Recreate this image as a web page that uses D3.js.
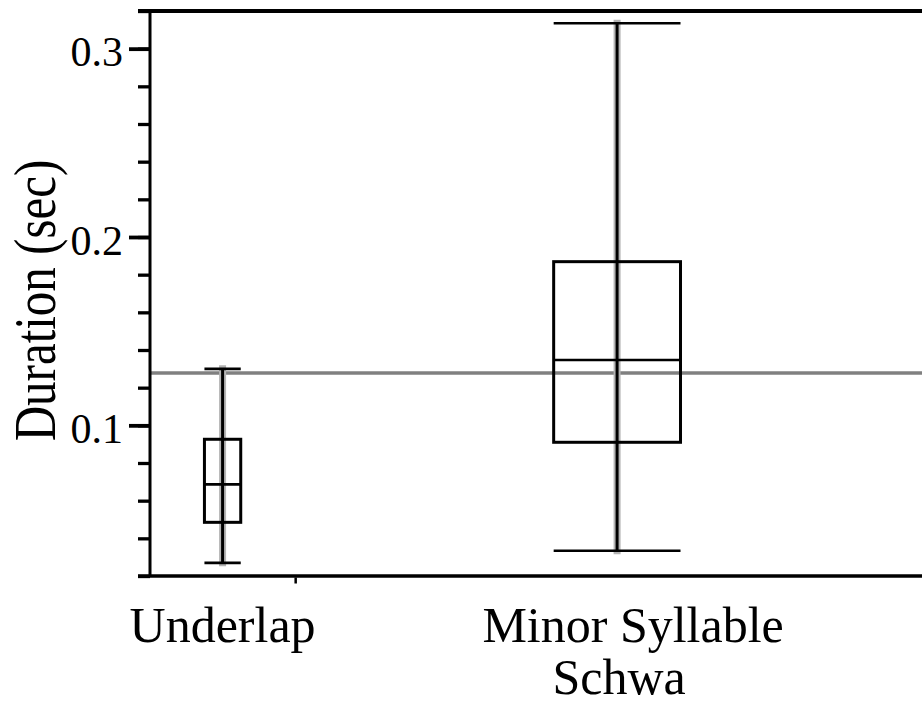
<!DOCTYPE html>
<html>
<head>
<meta charset="utf-8">
<script src="https://cdn.jsdelivr.net/npm/d3@7"></script>
<style>
  body { margin: 0; background: #fff; }
  svg { display: block; }
</style>
</head>
<body>
<svg id="chart" width="922" height="704"></svg>
<script>
// Duration by condition: box plot summaries (seconds)
const categories = ["Underlap", "Minor Syllable Schwa"];
const categoryLines = [["Underlap"], ["Minor Syllable", "Schwa"]];
const groupShare = [0.184, 0.816];          // share of the x axis given to each group
const whiskerLow = [0.027, 0.0334];
const q1 = [0.0485, 0.091];
const median = [0.0687, 0.1347];
const q3 = [0.0926, 0.1869];
const whiskerHigh = [0.130, 0.3135];
const grandMean = 0.1278;
const majorTicks = [0.1, 0.2, 0.3];
const minorTicks = d3.range(1, 17).map(i => +(i * 0.02).toFixed(2));

// layout
const plotLeft = 150, plotRight = 939, plotTop = 11, plotBottom = 576;
const boxFrac = [0.25, 0.197];
const lineOffsets = [[0], [16, 2]];
const SERIF = "'Liberation Serif', 'Times New Roman', Times, 'DejaVu Serif', serif";

const svg = d3.select("#chart");

const y = d3.scaleLinear().domain([0.02, 0.32]).range([plotBottom, plotTop]);
const xEdge = d3.scaleLinear().domain([0, 1]).range([plotLeft, plotRight]);
const cum = [0];
groupShare.forEach(s => cum.push(cum[cum.length - 1] + s));
const groups = categories.map((c, i) => {
  const x0 = xEdge(cum[i]), x1 = xEdge(cum[i + 1]);
  return { name: c, i, cx: (x0 + x1) / 2, half: (x1 - x0) * boxFrac[i] / 2 };
});

// grand mean reference line
svg.append("line")
  .attr("x1", plotLeft + 1).attr("x2", plotRight)
  .attr("y1", y(grandMean)).attr("y2", y(grandMean))
  .attr("stroke", "#808080").attr("stroke-width", 3.5);

// faint spread trace behind each whisker
svg.append("g").selectAll("line").data(groups).join("line")
  .attr("x1", d => d.cx).attr("x2", d => d.cx)
  .attr("y1", d => y(whiskerHigh[d.i])).attr("y2", d => y(whiskerLow[d.i]))
  .attr("stroke", "#b4b4b4").attr("stroke-width", 7)
  .attr("stroke-linecap", "square")
  .attr("stroke-dasharray", "16,4,9,3,22,5,12,3");

const boxes = svg.append("g").selectAll("g").data(groups).join("g");

// whisker stem
boxes.append("line")
  .attr("x1", d => d.cx).attr("x2", d => d.cx)
  .attr("y1", d => y(whiskerHigh[d.i])).attr("y2", d => y(whiskerLow[d.i]))
  .attr("stroke", "#000").attr("stroke-width", 3);

// whisker caps
[whiskerHigh, whiskerLow].forEach(arr => {
  boxes.append("line")
    .attr("x1", d => d.cx - d.half).attr("x2", d => d.cx + d.half)
    .attr("y1", d => y(arr[d.i])).attr("y2", d => y(arr[d.i]))
    .attr("stroke", "#000").attr("stroke-width", 2.7);
});

// interquartile box
boxes.append("rect")
  .attr("x", d => d.cx - d.half).attr("width", d => 2 * d.half)
  .attr("y", d => y(q3[d.i])).attr("height", d => y(q1[d.i]) - y(q3[d.i]))
  .attr("fill", "none").attr("stroke", "#000").attr("stroke-width", 3);

// median
boxes.append("line")
  .attr("x1", d => d.cx - d.half).attr("x2", d => d.cx + d.half)
  .attr("y1", d => y(median[d.i])).attr("y2", d => y(median[d.i]))
  .attr("stroke", "#000").attr("stroke-width", 2.7);

// y axis: minor ticks
const minorAxis = svg.append("g")
  .attr("transform", `translate(${plotLeft},0)`)
  .call(d3.axisLeft(y).tickValues(minorTicks).tickSize(12).tickFormat(""));
minorAxis.select(".domain").remove();
minorAxis.selectAll(".tick line").attr("stroke", "#000").attr("stroke-width", 3.3);

// y axis: major ticks with labels
const majorAxis = svg.append("g")
  .attr("transform", `translate(${plotLeft},0)`)
  .call(d3.axisLeft(y).tickValues(majorTicks).tickSize(21).tickPadding(6)
    .tickFormat(d3.format(".1f")));
majorAxis.attr("font-family", SERIF).attr("font-size", 42);
majorAxis.select(".domain").remove();
majorAxis.selectAll(".tick line").attr("stroke", "#000").attr("stroke-width", 3.8);
majorAxis.selectAll(".tick text")
  .attr("font-family", SERIF).attr("font-size", 42).attr("dy", "0.41em")
  .attr("fill", "#000");

// frame lines
svg.append("line")
  .attr("x1", plotLeft).attr("x2", plotLeft)
  .attr("y1", plotTop).attr("y2", plotBottom)
  .attr("stroke", "#000").attr("stroke-width", 3);
svg.append("line")
  .attr("x1", plotLeft - 12).attr("x2", plotRight)
  .attr("y1", plotTop).attr("y2", plotTop)
  .attr("stroke", "#000").attr("stroke-width", 4);
svg.append("line")
  .attr("x1", plotLeft - 12).attr("x2", plotRight)
  .attr("y1", plotBottom).attr("y2", plotBottom)
  .attr("stroke", "#000").attr("stroke-width", 3.5);

// x axis: group boundary ticks
const xAxis = svg.append("g")
  .attr("transform", `translate(0,${plotBottom + 1.5})`)
  .call(d3.axisBottom(xEdge).tickValues(cum.slice(1, -1)).tickSize(6).tickFormat(""));
xAxis.select(".domain").remove();
xAxis.selectAll(".tick line").attr("stroke", "#000").attr("stroke-width", 2.5);

// category labels
const labels = svg.append("g").selectAll("text").data(groups).join("text")
  .attr("text-anchor", "middle")
  .attr("font-family", SERIF)
  .attr("font-size", 50)
  .attr("fill", "#000")
  .attr("y", 642);
labels.each(function (d) {
  d3.select(this).selectAll("tspan").data(categoryLines[d.i]).join("tspan")
    .attr("x", (t, k) => d.cx + lineOffsets[d.i][k])
    .attr("dy", (t, k) => k === 0 ? 0 : 52)
    .text(t => t);
});

// y axis title
svg.append("text")
  .attr("transform", "translate(55,300.5) rotate(-90) scale(1,1.22)")
  .attr("text-anchor", "middle")
  .attr("font-family", SERIF)
  .attr("font-size", 49)
  .attr("fill", "#000")
  .text("Duration (sec)");
</script>
</body>
</html>
